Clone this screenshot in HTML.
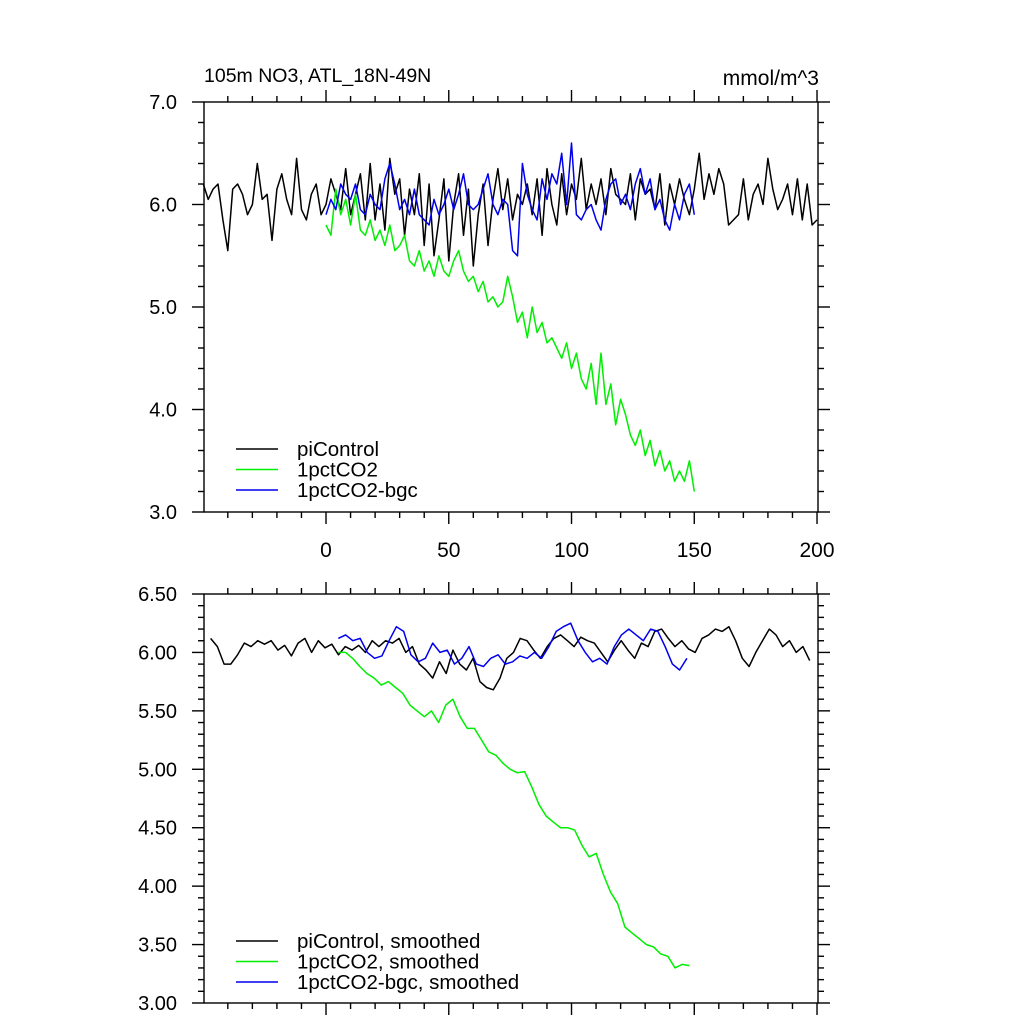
<!DOCTYPE html>
<html><head><meta charset="utf-8"><style>
body{margin:0;background:#fff}
svg{display:block;font-family:"Liberation Sans",sans-serif}
</style></head><body>
<svg id="chart" width="1024" height="1024" viewBox="0 0 1024 1024">
<text x="204" y="82" font-size="19.5">105m NO3, ATL_18N-49N</text>
<text x="819" y="85" font-size="21" text-anchor="end">mmol/m^3</text>
<g id="top"></g>
<g id="bot"></g>
</svg>
<script>
const xTicks=[0,50,100,150,200];
const topYTicks=[3.0,4.0,5.0,6.0,7.0];
const topYLabels=["3.0","4.0","5.0","6.0","7.0"];
const botYTicks=[3.0,3.5,4.0,4.5,5.0,5.5,6.0,6.5];
const botYLabels=["3.00","3.50","4.00","4.50","5.00","5.50","6.00","6.50"];
const seriesNames=["piControl","1pctCO2","1pctCO2-bgc"];
const botNames=["piControl, smoothed","1pctCO2, smoothed","1pctCO2-bgc, smoothed"];
const piRange=[-50,200];
const pctRange=[0,150];
const bgcRange=[0,150];
const piTop=[6.2,6.05,6.15,6.2,5.85,5.55,6.15,6.2,6.1,5.9,6.0,6.4,6.05,6.1,5.65,6.15,6.3,6.05,5.9,6.45,5.95,5.85,6.1,6.2,5.9,
6.0,6.25,6.1,5.95,6.35,5.9,6.1,6.3,5.85,6.4,5.85,6.2,5.75,6.45,6.1,6.25,5.7,6.15,5.9,6.3,5.6,6.2,5.5,5.85,6.25,
5.45,6.0,6.3,5.7,6.15,5.4,5.9,6.2,5.6,6.05,6.35,5.95,6.25,5.85,6.1,6.0,6.2,5.9,6.25,5.7,6.35,6.0,5.8,6.3,5.9,
6.2,6.05,6.45,5.95,6.2,6.0,6.25,5.9,6.35,6.1,6.05,6.0,6.3,5.85,6.25,6.1,6.15,5.95,6.3,5.8,6.2,6.0,6.25,6.05,5.9,
6.15,6.5,6.05,6.3,6.1,6.35,6.2,5.8,5.85,5.9,6.25,5.85,6.1,6.2,6.0,6.45,6.15,5.95,6.05,6.2,5.9,6.25,5.85,6.2,5.8,5.85];
const pctTop=[5.8,5.7,6.15,5.9,6.05,5.8,6.1,5.75,5.7,5.85,5.65,5.75,5.6,5.8,5.55,5.6,5.7,5.45,5.4,5.55,5.35,5.45,5.3,5.5,5.35,5.3,5.45,5.55,5.35,5.25,5.3,5.15,5.25,5.05,5.1,5.0,5.05,5.3,5.1,4.85,4.95,4.7,5.0,4.75,4.85,4.65,4.7,4.6,4.5,4.65,4.4,4.55,4.3,4.2,4.45,4.05,4.55,4.05,4.25,3.85,4.1,3.95,3.75,3.65,3.8,3.55,3.7,3.45,3.6,3.4,3.5,3.3,3.4,3.3,3.5,3.2];
const bgcTop=[5.9,6.05,5.95,6.2,6.1,6.05,6.2,5.95,5.9,6.1,6.0,5.95,6.25,6.4,6.2,5.95,6.05,5.9,6.15,5.9,5.85,5.8,6.05,5.9,6.0,6.15,5.95,6.1,6.3,6.0,5.95,6.0,6.15,6.3,6.0,5.9,6.05,6.0,5.55,5.5,6.4,6.1,5.95,5.85,6.25,6.05,6.3,6.2,6.5,6.0,6.6,5.9,5.85,5.95,6.0,5.85,5.75,6.05,6.2,6.25,6.0,6.1,5.95,6.2,6.35,6.1,6.25,5.95,6.05,5.85,5.75,6.0,5.85,6.1,6.2,5.9];
const piSmRange=[-47,197];
const pctSmRange=[5,148];
const bgcSmRange=[5,147];
const piSm=[6.12,6.05,5.9,5.9,5.98,6.08,6.05,6.1,6.07,6.1,6.02,6.06,5.97,6.08,6.12,6.0,6.1,6.04,6.07,5.98,6.05,6.02,6.06,6.0,
6.1,6.05,6.1,6.08,6.12,6.0,6.05,5.9,5.85,5.78,5.92,5.82,6.02,5.9,5.85,5.95,5.75,5.7,5.68,5.78,5.95,6.0,6.12,6.1,6.02,5.95,6.05,6.12,6.15,6.1,6.05,6.13,6.1,6.08,6.0,5.92,6.02,6.1,6.02,5.95,6.08,6.05,6.18,6.2,6.12,6.05,6.1,6.03,6.0,6.12,6.15,6.2,6.18,6.22,6.1,5.95,5.88,6.0,6.1,6.2,6.15,6.05,6.1,6.0,6.05,5.93];
const pctSm=[6.0,6.0,5.95,5.88,5.82,5.78,5.72,5.75,5.7,5.65,5.55,5.5,5.45,5.5,5.4,5.55,5.6,5.45,5.35,5.35,5.25,5.15,5.12,5.05,5.0,4.97,4.98,4.85,4.7,4.6,4.55,4.5,4.5,4.48,4.35,4.25,4.28,4.1,3.95,3.85,3.65,3.6,3.55,3.5,3.48,3.42,3.4,3.3,3.33,3.32];
const bgcSm=[6.12,6.15,6.1,6.12,6.0,5.95,5.97,6.1,6.22,6.18,5.98,5.92,5.95,6.08,6.0,6.02,5.9,5.95,6.05,5.9,5.88,5.95,5.98,5.9,5.92,5.97,5.95,6.0,5.95,6.05,6.18,6.22,6.25,6.1,6.0,5.92,5.95,5.9,6.05,6.15,6.2,6.15,6.1,6.2,6.18,6.05,5.9,5.85,5.95];
const colors=["#000","#00ee00","#0000ee"];

const NS="http://www.w3.org/2000/svg";
const L=204,R=818,XMIN=-49.7,XMAX=200.4;
const sx=v=>L+(v-XMIN)/(XMAX-XMIN)*(R-L);
function el(parent,tag,attrs){const e=document.createElementNS(NS,tag);for(const k in attrs)e.setAttribute(k,attrs[k]);parent.appendChild(e);return e;}

function panel(g,T,B,ymin,ymax,yt,yl,minorStep,series,names,legendY,showXLabels,prefix){
  const sy=v=>B-(v-ymin)/(ymax-ymin)*(B-T);
  const ax=el(g,'g',{stroke:'#000','stroke-width':1.4});
  
  
  const fr=el(ax,'rect',{x:L,y:T,width:R-L,height:B-T,fill:'none'});
  
  
  for(let v=-40;v<=200;v+=10){
    const x=sx(v),major=v%50===0,len=major?12:6;
    el(ax,'line',{x1:x,x2:x,y1:T,y2:T-len});
    el(ax,'line',{x1:x,x2:x,y1:B,y2:B+len});
  }
  const nm=Math.round((ymax-ymin)/minorStep);
  for(let i=0;i<=nm;i++){
    const v=ymin+i*minorStep,y=sy(v);
    const major=yt.some(t=>Math.abs(t-v)<1e-6),len=major?12:6;
    el(ax,'line',{x1:L,x2:L-len,y1:y,y2:y});
    el(ax,'line',{x1:R,x2:R+len,y1:y,y2:y});
  }
  yt.forEach((v,i)=>{
    const t=el(g,'text',{x:177,y:sy(v)+7,'font-size':20,'text-anchor':'end'});
    t.textContent=yl[i];
    
    
  });
  if(showXLabels){
    xTicks.forEach(v=>{
      const t=el(g,'text',{x:sx(v),y:557,'font-size':21,'text-anchor':'middle'});
      t.textContent=String(v);
      
      
    });
  }
  series.forEach((s,k)=>{
    const [a,b]=s.range,n=s.vals.length;
    const pts=s.vals.map((v,i)=>sx(a+i*(b-a)/(n-1)).toFixed(1)+','+sy(v).toFixed(1)).join(' ');
    const p=el(g,'polyline',{points:pts,fill:'none',stroke:colors[k],'stroke-width':1.5,'stroke-linejoin':'round'});
    
    
  });
  names.forEach((nmx,k)=>{
    const y=legendY+k*20.5;
    const lg=el(g,'g',{});
    
    
    el(lg,'line',{x1:236,x2:278,y1:y,y2:y,stroke:colors[k],'stroke-width':1.5});
    const t=el(lg,'text',{x:297,y:y+7,'font-size':20.5});
    t.textContent=nmx;
  });
}
panel(document.getElementById('top'),102,512,3,7,topYTicks,topYLabels,0.2,
 [{vals:piTop,range:piRange},{vals:pctTop,range:pctRange},{vals:bgcTop,range:bgcRange}],seriesNames,449,true,'top');
panel(document.getElementById('bot'),594,1003,3,6.5,botYTicks,botYLabels,0.1,
 [{vals:piSm,range:piSmRange},{vals:pctSm,range:pctSmRange},{vals:bgcSm,range:bgcSmRange}],botNames,941,false,'bottom');
</script>
</body></html>
